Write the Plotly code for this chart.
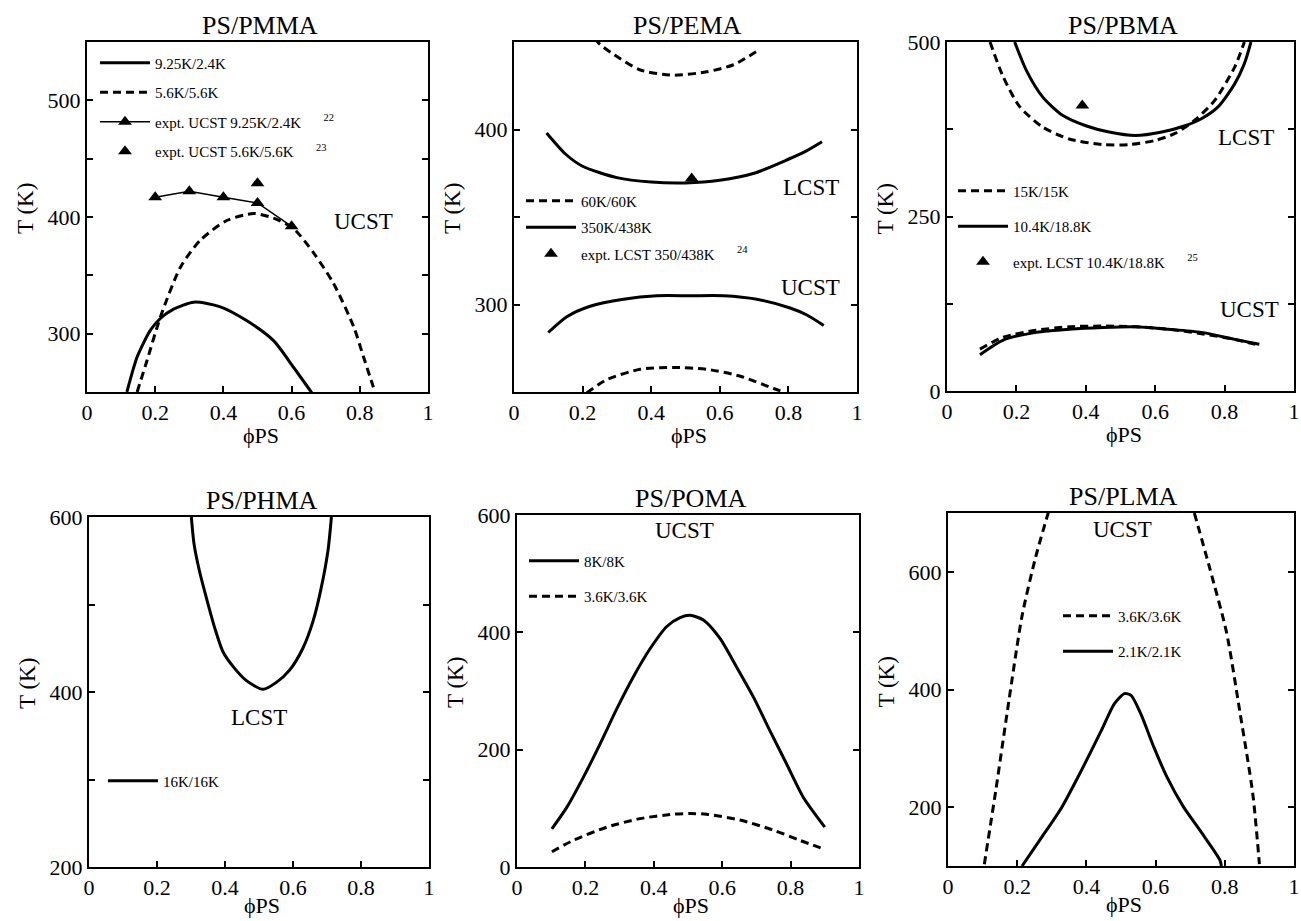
import plotly.graph_objects as go

# ---------------- data ----------------
x_ticks = [0, 0.2, 0.4, 0.6, 0.8, 1]
x_ticktext = ["0", "0.2", "0.4", "0.6", "0.8", "1"]

# PS/PMMA
pmma_solid_x = [0.117, 0.147, 0.186, 0.215, 0.254, 0.313, 0.391, 0.469, 0.547, 0.606, 0.66]
pmma_solid_T = [250, 280, 303, 313, 321, 327, 323, 311, 294, 271, 249]
pmma_dash_x = [0.147, 0.176, 0.215, 0.274, 0.332, 0.41, 0.489, 0.547, 0.606, 0.665, 0.723, 0.782, 0.811, 0.84]
pmma_dash_T = [250, 277, 314, 357, 380, 397, 403, 399, 390, 369, 343, 306, 280, 254]
pmma_expt1_x = [0.2, 0.3, 0.4, 0.5, 0.6]
pmma_expt1_T = [417, 422, 417, 412, 392]
pmma_expt2_x = [0.5]
pmma_expt2_T = [429]

# PS/PEMA
pema_lcst_x = [0.095, 0.15, 0.2, 0.3, 0.4, 0.5, 0.6, 0.7, 0.8, 0.85, 0.898]
pema_lcst_T = [398, 386, 379, 372.5, 370, 369.5, 371, 375, 383, 387.5, 393]
pema_ucst_x = [0.1, 0.154, 0.222, 0.319, 0.416, 0.514, 0.611, 0.708, 0.805, 0.854, 0.903]
pema_ucst_T = [284, 293, 299, 303, 305, 305, 305, 303, 298, 294, 288]
pema_dash_up_x = [0.235, 0.251, 0.29, 0.368, 0.465, 0.562, 0.64, 0.718]
pema_dash_up_T = [452, 448.6, 443, 434, 431, 433, 437, 446]
pema_dash_lo_x = [0.212, 0.27, 0.368, 0.465, 0.562, 0.66, 0.757, 0.786]
pema_dash_lo_T = [249.5, 257, 263, 264, 263, 259, 252, 250]
pema_expt_x = [0.518]
pema_expt_T = [372]

# PS/PBMA
pbma_lcst_solid_x = [0.195, 0.229, 0.276, 0.333, 0.4, 0.467, 0.543, 0.619, 0.686, 0.733, 0.781, 0.829, 0.857, 0.876]
pbma_lcst_solid_T = [500, 459, 421, 395, 380, 371, 366, 371, 380, 390, 407, 440, 469, 500]
pbma_lcst_dash_x = [0.124, 0.162, 0.21, 0.276, 0.352, 0.448, 0.524, 0.6, 0.657, 0.714, 0.771, 0.829, 0.857]
pbma_lcst_dash_T = [500, 450, 407, 378, 361, 353, 353, 359, 369, 388, 416, 464, 500]
pbma_ucst_solid_x = [0.095, 0.162, 0.257, 0.352, 0.448, 0.543, 0.638, 0.733, 0.829, 0.9]
pbma_ucst_solid_T = [52, 73, 84, 88.5, 91, 92, 88.5, 84, 74, 67]
pbma_ucst_dash_x = [0.095, 0.162, 0.257, 0.352, 0.448, 0.543, 0.638, 0.733, 0.829, 0.895]
pbma_ucst_dash_T = [60, 77, 87, 92, 93, 92, 88.5, 82, 74, 66]
pbma_expt_x = [0.39]
pbma_expt_T = [409]

# PS/PHMA
phma_x = [0.301, 0.309, 0.325, 0.345, 0.37, 0.394, 0.424, 0.463, 0.512, 0.551, 0.59, 0.629, 0.659, 0.683, 0.703, 0.713]
phma_T = [600, 569, 538, 508, 473, 446, 429, 413, 403, 411, 425, 450, 481, 519, 562, 600]

# PS/POMA
poma_solid_x = [0.102, 0.146, 0.195, 0.243, 0.292, 0.34, 0.389, 0.438, 0.477, 0.506, 0.545, 0.593, 0.642, 0.691, 0.739, 0.788, 0.837, 0.9]
poma_solid_T = [65, 102, 154, 210, 270, 324, 372, 410, 425, 429, 421, 390, 341, 290, 233, 176, 119, 68]
poma_dash_x = [0.102, 0.165, 0.263, 0.36, 0.457, 0.506, 0.554, 0.652, 0.749, 0.827, 0.9]
poma_dash_T = [26, 45.5, 68, 82.5, 90, 91, 90, 80, 63, 45.5, 30]

# PS/PLMA
plma_dash_x = [0.105, 0.138, 0.176, 0.214, 0.252, 0.29, None, 0.712, 0.757, 0.805, 0.843, 0.881, 0.9]
plma_dash_T = [103, 228, 381, 525, 622, 701, None, 700, 605, 497, 364, 222, 103]
plma_solid_x = [0.214, 0.271, 0.329, 0.386, 0.443, 0.481, 0.51, 0.529, 0.557, 0.595, 0.633, 0.681, 0.729, 0.786, 0.79]
plma_solid_T = [100, 149, 200, 263, 330, 376, 393, 390, 359, 302, 251, 200, 160, 110, 100]

# ---------------- layout helpers ----------------
W, H = 1301, 921
FONT = "Liberation Serif, Times New Roman, serif"
NB = "\u00a0"
SUPGAP = NB * 6

def px_x(p):
    return p / W

def px_y(p):
    return 1 - p / H

panels = [
    # (title, xdomain px, ydomain px (top, bottom), yrange, major ticks (labelled), minor ticks, xtitle offset)
    ("PS/PMMA", (87, 428), (42, 392), [250, 550], [300, 400, 500], [250, 350, 450, 550], 43),
    ("PS/PEMA", (514, 857), (42, 392), [250, 450], [300, 400], [250, 350, 450], 43),
    ("PS/PBMA", (947, 1294), (42, 391), [0, 500], [0, 250, 500], [125, 375], 43),
    ("PS/PHMA", (89, 429), (517, 867), [200, 600], [200, 400, 600], [300, 500], 38),
    ("PS/POMA", (517, 859), (515, 867), [0, 600], [0, 200, 400, 600], [], 38),
    ("PS/PLMA", (948, 1294), (513, 866), [100, 700], [200, 400, 600], [], 38),
]

fig = go.Figure()
layout = dict(
    template="none",
    width=W, height=H, autosize=False,
    margin=dict(l=0, r=0, t=0, b=0, pad=0),
    paper_bgcolor="white", plot_bgcolor="white",
    font=dict(family=FONT, color="black"),
    annotations=[],
)

TICK = dict(ticks="inside", ticklen=6, tickwidth=1.5, tickcolor="black")

for i, (title, xd, yd, yr, ymaj, ymin, xoff) in enumerate(panels):
    n = "" if i == 0 else str(i + 1)
    layout["xaxis" + n] = dict(
        domain=[px_x(xd[0]), px_x(xd[1])], range=[0, 1], anchor="y" + n,
        showline=True, linecolor="black", linewidth=2, mirror=True,
        tickvals=x_ticks, ticktext=x_ticktext,
        tickfont=dict(family=FONT, size=22, color="black"),
        showgrid=False, zeroline=False, fixedrange=True, automargin=False, **TICK,
    )
    ya = dict(
        domain=[px_y(yd[1]), px_y(yd[0])], range=yr, anchor="x" + n,
        showline=True, linecolor="black", linewidth=2, mirror="ticks",
        tickvals=ymaj, ticktext=[str(v) for v in ymaj],
        tickfont=dict(family=FONT, size=22, color="black"),
        showgrid=False, zeroline=False, fixedrange=True, automargin=False, **TICK,
    )
    if ymin:
        ya["minor"] = dict(tickvals=ymin, showgrid=False, **TICK)
    layout["yaxis" + n] = ya
    cx = (xd[0] + xd[1]) / 2
    # subplot title
    layout["annotations"].append(dict(
        text=title, xref="paper", yref="paper", x=px_x(cx + 2), y=px_y(yd[0] - 17),
        showarrow=False, font=dict(family=FONT, size=26, color="black"),
        xanchor="center", yanchor="middle"))
    # x-axis title
    layout["annotations"].append(dict(
        text="ϕPS", xref="paper", yref="paper", x=px_x(cx + 3), y=px_y(yd[1] + xoff),
        showarrow=False, font=dict(family=FONT, size=22, color="black"),
        xanchor="center", yanchor="middle"))
    # y-axis title
    layout["annotations"].append(dict(
        text="T (K)", xref="paper", yref="paper", x=px_x(xd[0] - 62), y=px_y((yd[0] + yd[1]) / 2 - 8),
        showarrow=False, textangle=-90, font=dict(family=FONT, size=23, color="black"),
        xanchor="center", yanchor="middle"))

def lbl(text, x, y, ax):
    n = "" if ax == 1 else str(ax)
    layout["annotations"].append(dict(
        text=text, xref="x" + n, yref="y" + n, x=x, y=y, showarrow=False,
        font=dict(family=FONT, size=23, color="black"), xanchor="center", yanchor="middle"))

lbl("UCST", 0.81, 396, 1)
lbl("LCST", 0.865, 367, 2)
lbl("UCST", 0.865, 310, 2)
lbl("LCST", 0.862, 363, 3)
lbl("UCST", 0.872, 117, 3)
lbl("LCST", 0.5, 371, 4)
lbl("UCST", 0.49, 574, 5)
lbl("UCST", 0.505, 672, 6)

SOLID = dict(color="black", width=3)
DASH = dict(color="black", width=3, dash="8px,5px")
TRI = dict(symbol="triangle-up", size=12, color="black")

def add(x, y, ax, name=None, legend=None, mode="lines", line=None, marker=None, rank=None):
    n = "" if ax == 1 else str(ax)
    kw = dict(x=x, y=y, xaxis="x" + n, yaxis="y" + n, mode=mode, hoverinfo="skip",
              connectgaps=False)
    if line is not None:
        kw["line"] = dict(line, shape="spline", smoothing=0.7) if mode == "lines" else line
    if marker is not None:
        kw["marker"] = marker
    if name is not None:
        kw.update(name=name, legend=legend, showlegend=True, legendgroup=name + legend,
                  legendrank=rank)
    else:
        kw["showlegend"] = False
    fig.add_trace(go.Scatter(**kw))

# PMMA
add(pmma_solid_x, pmma_solid_T, 1, "9.25K/2.4K", "legend", line=SOLID, rank=1)
add(pmma_dash_x, pmma_dash_T, 1, "5.6K/5.6K", "legend", line=DASH, rank=2)
add(pmma_expt1_x, pmma_expt1_T, 1, "expt. UCST 9.25K/2.4K" + SUPGAP + "<sup>22</sup>", "legend",
    mode="lines+markers", line=dict(color="black", width=1.5), marker=TRI, rank=3)
add(pmma_expt2_x, pmma_expt2_T, 1, "expt. UCST 5.6K/5.6K" + SUPGAP + "<sup>23</sup>", "legend",
    mode="markers", marker=TRI, rank=4)

# PEMA
add(pema_dash_up_x, pema_dash_up_T, 2, "60K/60K", "legend2", line=DASH, rank=1)
add(pema_dash_lo_x, pema_dash_lo_T, 2, line=DASH)
add(pema_lcst_x, pema_lcst_T, 2, "350K/438K", "legend2", line=SOLID, rank=2)
add(pema_ucst_x, pema_ucst_T, 2, line=SOLID)
add(pema_expt_x, pema_expt_T, 2, "expt. LCST 350/438K" + SUPGAP + "<sup>24</sup>", "legend2",
    mode="markers", marker=TRI, rank=3)

# PBMA
add(pbma_lcst_dash_x, pbma_lcst_dash_T, 3, "15K/15K", "legend3", line=DASH, rank=1)
add(pbma_ucst_dash_x, pbma_ucst_dash_T, 3, line=DASH)
add(pbma_lcst_solid_x, pbma_lcst_solid_T, 3, "10.4K/18.8K", "legend3", line=SOLID, rank=2)
add(pbma_ucst_solid_x, pbma_ucst_solid_T, 3, line=SOLID)
add(pbma_expt_x, pbma_expt_T, 3, "expt. LCST 10.4K/18.8K" + SUPGAP + "<sup>25</sup>", "legend3",
    mode="markers", marker=TRI, rank=3)

# PHMA
add(phma_x, phma_T, 4, "16K/16K", "legend4", line=SOLID, rank=1)

# POMA
add(poma_solid_x, poma_solid_T, 5, "8K/8K", "legend5", line=SOLID, rank=1)
add(poma_dash_x, poma_dash_T, 5, "3.6K/3.6K", "legend5", line=DASH, rank=2)

# PLMA
add(plma_dash_x, plma_dash_T, 6, "3.6K/3.6K", "legend6", line=DASH, rank=1)
add(plma_solid_x, plma_solid_T, 6, "2.1K/2.1K", "legend6", line=SOLID, rank=2)

def leg(line_start, first_center, gap):
    return dict(
        x=px_x(line_start - 5), y=px_y(first_center - 18.5), xanchor="left", yanchor="top",
        bgcolor="rgba(0,0,0,0)", borderwidth=0, itemwidth=50,
        font=dict(family=FONT, size=15, color="black"),
        tracegroupgap=gap, traceorder="grouped", itemclick=False, itemdoubleclick=False,
    )

layout["legend"] = leg(100, 65, 7)
layout["legend2"] = leg(526, 203, 4)
layout["legend3"] = leg(958, 193, 13)
layout["legend4"] = leg(108, 783, 8)
layout["legend5"] = leg(529, 563, 13)
layout["legend6"] = leg(1063, 618, 13)

fig.update_layout(**layout)
fig.write_html(
    "out.html",
    config={"displayModeBar": False, "staticPlot": False},
    post_script="document.body.style.margin='0';document.body.style.overflow='hidden';",
)
